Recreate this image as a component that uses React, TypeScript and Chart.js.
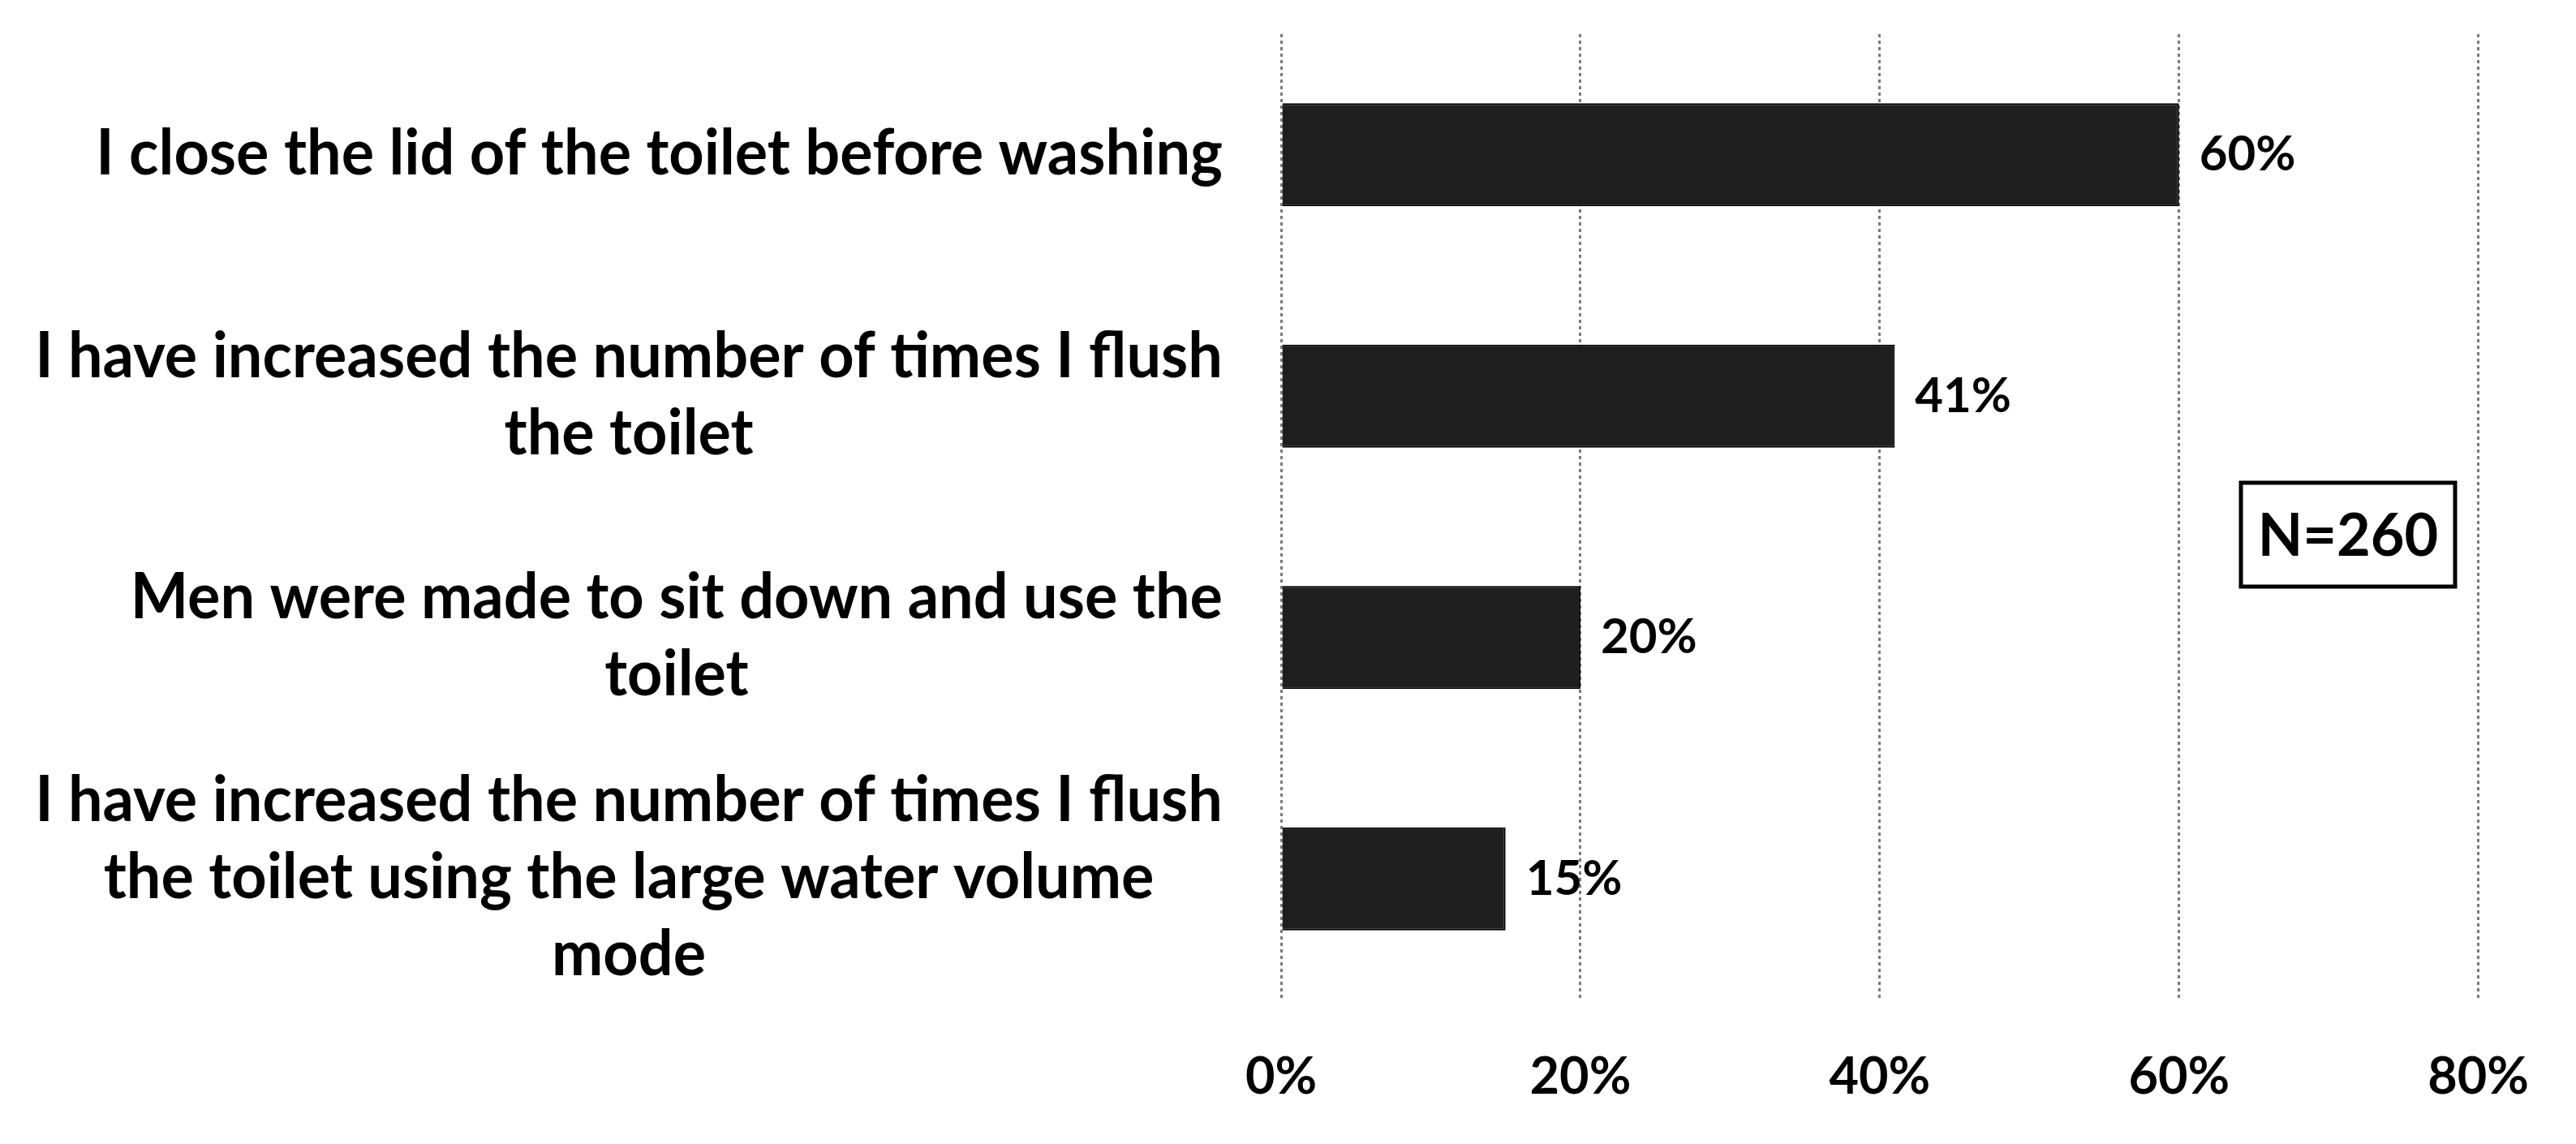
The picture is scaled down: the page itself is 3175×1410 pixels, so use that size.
import React, { useEffect, useRef } from "react";
import { Chart, registerables } from "chart.js";

Chart.register(...registerables);

const categoryLines: string[][] = [
  ["I close the lid of the toilet before washing"],
  ["I have increased the number of times I flush", "the toilet"],
  ["Men were made to sit down and use the", "toilet"],
  ["I have increased the number of times I flush", "the toilet using the large water volume", "mode"],
];
const values: number[] = [60, 41, 20, 15];
const xMin = 0;
const xMax = 80;
const xStep = 20;
const noteText = "N=260";

const FONT = "Lato, 'Open Sans', sans-serif";

export default function App() {
  const ref = useRef<HTMLCanvasElement>(null);

  useEffect(() => {
    document.body.style.margin = "0";
    document.body.style.overflow = "hidden";
    const canvas = ref.current;
    if (!canvas) return;

    const labelPlugin = {
      id: "customLabels",
      afterDatasetsDraw(chart: any) {
        const ctx = chart.ctx as CanvasRenderingContext2D;
        const meta = chart.getDatasetMeta(0);
        const yScale = chart.scales.y;
        ctx.save();

        // value labels
        ctx.font = `bold 60px ${FONT}`;
        ctx.fillStyle = "#000";
        ctx.textAlign = "left";
        ctx.textBaseline = "middle";
        meta.data.forEach((bar: any, i: number) => {
          ctx.fillText(values[i] + "%", bar.x + 25, bar.y);
        });

        // category labels: centered lines, block right-aligned
        const labelRight = 1507;
        const lh = 95;
        const sx = 0.97;
        ctx.font = `bold 78px ${FONT}`;
        ctx.textAlign = "center";
        ctx.textBaseline = "alphabetic";
        categoryLines.forEach((lines, i) => {
          const cy = yScale.getPixelForValue(i);
          const w = Math.max(...lines.map((l) => ctx.measureText(l).width)) * sx;
          const cx = labelRight - w / 2;
          lines.forEach((l, j) => {
            const by = cy - ((lines.length - 1) * lh) / 2 + j * lh + 24;
            ctx.save();
            ctx.translate(cx, by);
            ctx.scale(sx, 1);
            ctx.fillText(l, 0, 0);
            ctx.restore();
          });
        });

        // N box
        ctx.lineWidth = 5;
        ctx.strokeStyle = "#000";
        ctx.strokeRect(2762, 595, 264, 128);
        ctx.font = `bold 72px ${FONT}`;
        ctx.textAlign = "center";
        ctx.textBaseline = "middle";
        ctx.fillText(noteText, 2894, 662);

        ctx.restore();
      },
    };

    const chart = new Chart(canvas, {
      type: "bar",
      data: {
        labels: categoryLines.map((l) => l.join(" ")),
        datasets: [
          {
            data: values,
            backgroundColor: "#1e1e1e",
            borderColor: "#000",
            borderWidth: 2,
            barPercentage: 0.427,
            categoryPercentage: 1,
          },
        ],
      },
      options: {
        indexAxis: "y",
        animation: false,
        responsive: false,
        devicePixelRatio: 1,
        layout: { padding: { left: 1579, right: 109, top: 42, bottom: 43 } },
        plugins: {
          legend: { display: false },
          tooltip: { enabled: false },
          title: { display: false },
        },
        scales: {
          x: {
            min: xMin,
            max: xMax,
            border: { display: false, dash: [4, 4] },
            grid: {
              display: true,
              color: "#7a7a7a",
              lineWidth: 3,
              drawTicks: false,
            },
            ticks: {
              stepSize: xStep,
              padding: 58,
              color: "#000",
              font: { family: FONT, weight: "bold", size: 63 },
              callback: (v: any) => v + "%",
            },
            afterFit: (scale: any) => {
              scale.height = 135;
            },
          },
          y: {
            display: false,
          },
        },
      },
      plugins: [labelPlugin],
    } as any);

    if ((document as any).fonts && (document as any).fonts.load) {
      (document as any).fonts.load(`bold 78px Lato`).then(() => chart.update()).catch(() => {});
    }

    return () => chart.destroy();
  }, []);

  return (
    <canvas
      ref={ref}
      width={3175}
      height={1410}
      style={{ display: "block", width: "3175px", height: "1410px", background: "#fff" }}
    />
  );
}
